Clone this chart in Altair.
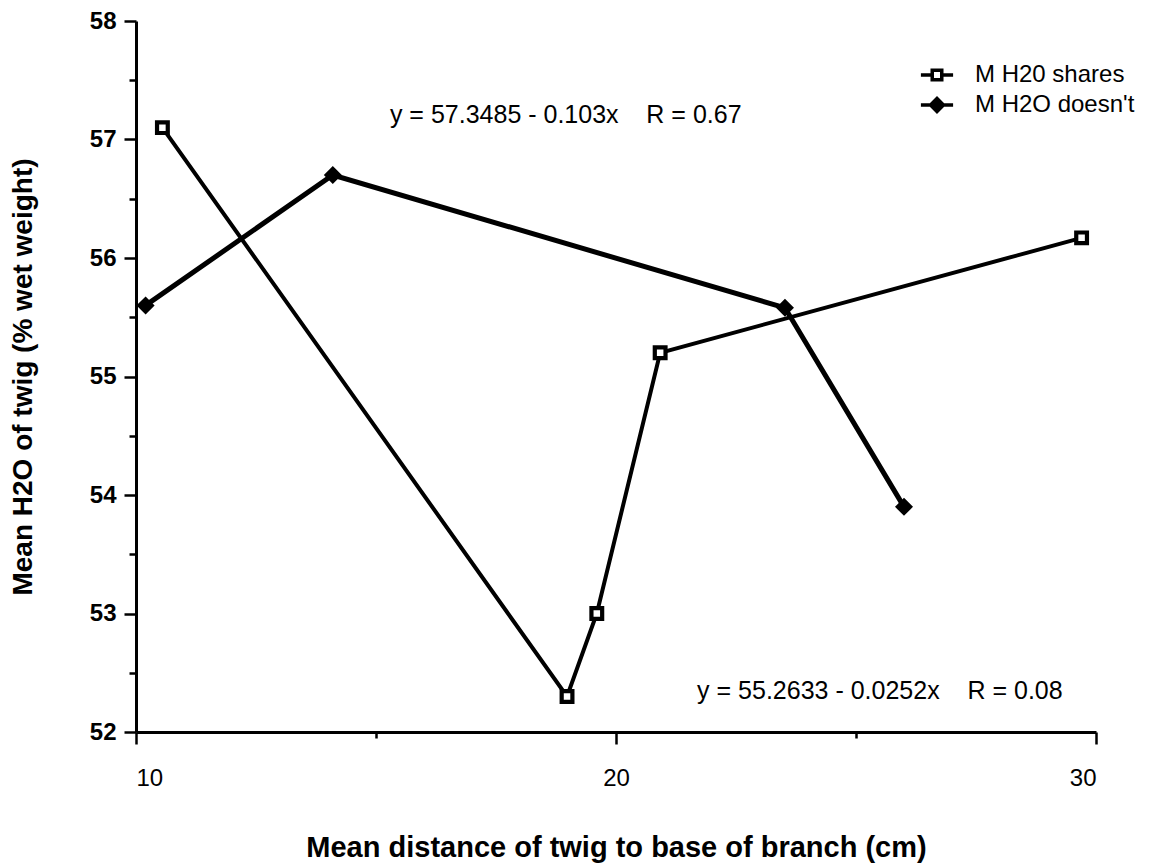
import altair as alt
import pandas as pd

# ---- data ----
series_names = ["M H20 shares", "M H2O doesn't"]
shares_x = [10.55, 18.98, 19.6, 20.92, 29.7]
shares_y = [57.1, 52.3, 53.0, 55.2, 56.17]
doesnt_x = [10.2, 14.1, 23.52, 26.0]
doesnt_y = [55.6, 56.7, 55.58, 53.9]

x_ticks = [10, 20, 30]
x_minor = [15, 25]
y_ticks = [52, 53, 54, 55, 56, 57, 58]
y_minor = [52.5, 53.5, 54.5, 55.5, 56.5, 57.5]

NB = "\u00a0"
eq_texts = ["y = 57.3485 - 0.103x" + NB * 4 + "R = 0.67",
            "y = 55.2633 - 0.0252x" + NB * 4 + "R = 0.08"]
eq_x = [15.29, 21.69]
eq_y = [57.21, 52.35]

# ---- tables ----
df_sh = pd.DataFrame({"x": shares_x, "y": shares_y, "series": series_names[0]})
df_do = pd.DataFrame({"x": doesnt_x, "y": doesnt_y, "series": series_names[1]})
df_eq = pd.DataFrame({"x": eq_x, "y": eq_y, "t": eq_texts})
df_lg = pd.DataFrame({"lg": series_names})

FONT = "Liberation Sans"
xs = alt.Scale(domain=[10, 30], nice=False, zero=False)
ys = alt.Scale(domain=[52, 58], nice=False, zero=False)

x_main = alt.X("x:Q", scale=xs, axis=alt.Axis(
    values=x_ticks, format="d", orient="bottom", grid=False,
    title="Mean distance of twig to base of branch (cm)",
    titleFont=FONT, titleFontSize=29, titleFontWeight="bold", titleColor="black",
    titlePadding=43,
    labelFont=FONT, labelFontSize=24, labelColor="black",
    labelPadding=22, tickSize=12, tickWidth=2.5, tickColor="black",
    domainColor="black", domainWidth=3))
y_main = alt.Y("y:Q", scale=ys, axis=alt.Axis(
    values=y_ticks, format="d", orient="left", grid=False,
    title="Mean H2O of twig (% wet weight)",
    titleFont=FONT, titleFontSize=28, titleFontWeight="bold", titleColor="black",
    titlePadding=52,
    labelFont=FONT, labelFontSize=24, labelFontWeight="bold", labelColor="black",
    labelPadding=8, tickSize=12, tickWidth=2.5, tickColor="black",
    domainColor="black", domainWidth=3))

line_sh = alt.Chart(df_sh).mark_line(color="black", strokeWidth=4).encode(x=x_main, y=y_main)
line_do = alt.Chart(df_do).mark_line(color="black", strokeWidth=5).encode(
    x=alt.X("x:Q", scale=xs, axis=None), y=alt.Y("y:Q", scale=ys, axis=None))

# annotation layer also carries the minor-tick axes
eq = alt.Chart(df_eq).mark_text(align="left", baseline="middle", font=FONT,
                                fontSize=25, color="black").encode(
    x=alt.X("x:Q", scale=xs, axis=alt.Axis(values=x_minor, labels=False, domain=False,
                                           grid=False, title=None, orient="bottom",
                                           tickSize=6, tickWidth=2.5, tickColor="black")),
    y=alt.Y("y:Q", scale=ys, axis=alt.Axis(values=y_minor, labels=False, domain=False,
                                           grid=False, title=None, orient="left",
                                           tickSize=7, tickWidth=2.5, tickColor="black")),
    text="t:N")

pt_sh = alt.Chart(df_sh).mark_point(shape="square", filled=True, fill="white",
                                    stroke="black", strokeWidth=4.2, size=115,
                                    opacity=1).encode(
    x=alt.X("x:Q", scale=xs, axis=None), y=alt.Y("y:Q", scale=ys, axis=None))
pt_do = alt.Chart(df_do).mark_point(shape="diamond", filled=True, fill="black",
                                    stroke="black", strokeWidth=3, size=190,
                                    opacity=1).encode(
    x=alt.X("x:Q", scale=xs, axis=None), y=alt.Y("y:Q", scale=ys, axis=None))

path_sh = "M-1.15,0H-0.34M0.34,0H1.15M-0.34,-0.34H0.34V0.34H-0.34Z"
path_do = "M-1.15,0H1.15M0,-0.46L0.46,0L0,0.46L-0.46,0Z"
lg_def = alt.Legend(title=None, orient="none", legendX=785, legendY=38,
                    labelFont=FONT, labelFontSize=24, labelColor="black", labelLimit=0,
                    labelOffset=22, symbolSize=784, symbolStrokeWidth=3.5,
                    symbolOpacity=1, rowPadding=2)
legend_layer = alt.Chart(df_lg).mark_point(filled=True, opacity=0, stroke="black",
                                           strokeWidth=3.5).encode(
    shape=alt.Shape("lg:N", scale=alt.Scale(domain=series_names, range=[path_sh, path_do]),
                    legend=lg_def),
    fill=alt.Fill("lg:N", scale=alt.Scale(domain=series_names, range=["white", "black"]),
                  legend=lg_def))

chart = alt.layer(line_sh, eq, line_do, pt_sh, pt_do, legend_layer).resolve_axis(
    x="independent", y="independent"
).properties(
    width=960, height=711,
    autosize=alt.AutoSizeParams(type="none"),
    padding={"left": 128, "top": 13, "right": 48, "bottom": 132},
    background="white",
).configure_view(stroke=None)

chart.save("out.html", embed_options={"renderer": "svg", "actions": False})
